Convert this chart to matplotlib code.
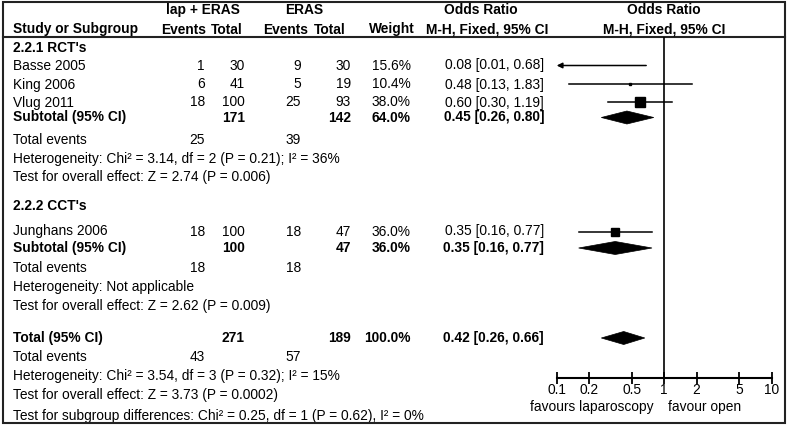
"""
Forest plot: lap + ERAS vs ERAS (M-H, fixed effect odds ratio).
RevMan-style layout, drawn on one figure-wide table axes plus a log-scale
axes for the odds-ratio marks.
"""

import matplotlib
matplotlib.use("Agg")
import matplotlib.pyplot as plt
from matplotlib.patches import Polygon, Rectangle
import matplotlib.ticker as ticker

plt.rcParams["font.family"] = ["Liberation Sans", "DejaVu Sans"]

# ═════════════════════════════════════════════════════════════
# Data
# ═════════════════════════════════════════════════════════════
study_names = ["Basse 2005", "King 2006", "Vlug 2011", "Junghans 2006"]
study_group = [0, 0, 0, 1]
lap_events = [1, 6, 18, 18]
lap_total = [30, 41, 100, 100]
eras_events = [9, 5, 25, 18]
eras_total = [30, 19, 93, 47]
weights = [15.6, 10.4, 38.0, 36.0]
odds_ratio = [0.08, 0.48, 0.60, 0.35]
ci_low = [0.01, 0.13, 0.30, 0.16]
ci_high = [0.68, 1.83, 1.19, 0.77]

group_labels = ["2.2.1 RCT's", "2.2.2 CCT's"]
group_lap_total = [171, 100]
group_eras_total = [142, 47]
group_weight = [64.0, 36.0]
group_or = [0.45, 0.35]
group_low = [0.26, 0.16]
group_high = [0.80, 0.77]
group_lap_events = [25, 18]
group_eras_events = [39, 18]
group_het = ["Heterogeneity: Chi² = 3.14, df = 2 (P = 0.21); I² = 36%",
             "Heterogeneity: Not applicable"]
group_effect = ["Test for overall effect: Z = 2.74 (P = 0.006)",
                "Test for overall effect: Z = 2.62 (P = 0.009)"]

total_lap_total = 271
total_eras_total = 189
total_weight = 100.0
total_or = 0.42
total_low = 0.26
total_high = 0.66
total_lap_events = 43
total_eras_events = 57
total_het = "Heterogeneity: Chi² = 3.54, df = 3 (P = 0.32); I² = 15%"
total_effect = "Test for overall effect: Z = 3.73 (P = 0.0002)"
subgroup_test = "Test for subgroup differences: Chi² = 0.25, df = 1 (P = 0.62), I² = 0%"

axis_ticks = [0.1, 0.2, 0.5, 1, 2, 5, 10]
tick_labels = ["0.1", "0.2", "0.5", "1", "2", "5", "10"]
favours_left = "favours laparoscopy"
favours_right = "favour open"

# ═════════════════════════════════════════════════════════════
# Layout (pixels, y measured from the top)
# ═════════════════════════════════════════════════════════════
W, H = 787, 426
FS = 9.9
X_NAME = 13
X_LAP_EV, X_LAP_TOT, X_ERAS_EV, X_ERAS_TOT = 205, 245, 301, 351
X_WEIGHT, X_OR = 411, 544
PLOT_L, PLOT_R = 556.7, 771.7          # x of 0.1 and 10
PLOT_T, PLOT_B = 37, 377.5             # header rule and axis line

Y_HEAD = [10, 29.5]
Y_GROUP = [48, 206]
Y_STUDY = [65.5, 84.5, 102.5, 231.5]
Y_SUB = [117.5, 248]
Y_SUB_EVENTS = [139.5, 268]
Y_SUB_HET = [158.5, 287]
Y_SUB_EFFECT = [177, 306]
Y_TOTAL, Y_TOTAL_EVENTS, Y_TOTAL_HET, Y_TOTAL_EFFECT, Y_SUBGROUP = 338, 357, 376, 395, 416
DIAMOND_H = 6.5

fig = plt.figure(figsize=(W / 100, H / 100), dpi=100)
tab = fig.add_axes([0, 0, 1, 1])
tab.set_xlim(0, W)
tab.set_ylim(H, 0)
tab.axis("off")


def put(x, y, s, ha="left", bold=False):
    tab.text(x, y, s, ha=ha, va="center", fontsize=FS,
             fontweight="bold" if bold else "normal", color="black")


def or_text(o, lo, hi):
    return f"{o:.2f} [{lo:.2f}, {hi:.2f}]"


# ── Frame and header rule ──
tab.add_patch(Rectangle((3, 2), W - 5, H - 5, fill=False, lw=1.5, ec="#222222",
                        zorder=5))
tab.plot([3, W - 2], [PLOT_T, PLOT_T], color="#222222", lw=1.5)

# ── Header ──
put(203, Y_HEAD[0], "lap + ERAS", ha="center", bold=True)
put(304, Y_HEAD[0], "ERAS", ha="center", bold=True)
put(481, Y_HEAD[0], "Odds Ratio", ha="center", bold=True)
put(664, Y_HEAD[0], "Odds Ratio", ha="center", bold=True)
put(X_NAME, Y_HEAD[1], "Study or Subgroup", bold=True)
put(206, Y_HEAD[1], "Events", ha="right", bold=True)
put(243, Y_HEAD[1], "Total", ha="right", bold=True)
put(308, Y_HEAD[1], "Events", ha="right", bold=True)
put(346, Y_HEAD[1], "Total", ha="right", bold=True)
put(415, Y_HEAD[1], "Weight", ha="right", bold=True)
put(487, Y_HEAD[1], "M-H, Fixed, 95% CI", ha="center", bold=True)
put(664, Y_HEAD[1], "M-H, Fixed, 95% CI", ha="center", bold=True)

# ═════════════════════════════════════════════════════════════
# Odds-ratio axes
# ═════════════════════════════════════════════════════════════
ax = fig.add_axes([PLOT_L / W, 1 - PLOT_B / H,
                   (PLOT_R - PLOT_L) / W, (PLOT_B - PLOT_T) / H])
ax.set_xscale("log")
ax.set_xlim(axis_ticks[0], axis_ticks[-1])
ax.set_ylim(PLOT_B, PLOT_T)
ax.patch.set_alpha(0)
for side in ["top", "right", "left"]:
    ax.spines[side].set_visible(False)
ax.spines["bottom"].set_linewidth(1.5)
ax.set_yticks([])
ax.xaxis.set_major_locator(ticker.FixedLocator(axis_ticks))
ax.xaxis.set_major_formatter(ticker.FixedFormatter(tick_labels))
ax.xaxis.set_minor_locator(ticker.NullLocator())
ax.tick_params(axis="x", direction="inout", length=8, width=1.3,
               labelsize=FS, pad=0)
ax.axvline(1, color="black", lw=1.2)

xmin = axis_ticks[0]


def draw_diamond(o, lo, hi, y):
    ax.add_patch(Polygon([(lo, y), (o, y - DIAMOND_H), (hi, y), (o, y + DIAMOND_H)],
                         closed=True, fc="black", ec="black", lw=0.5))


# ── Studies ──
for i, name in enumerate(study_names):
    y = Y_STUDY[i]
    put(X_NAME, y, name)
    put(X_LAP_EV, y, str(lap_events[i]), ha="right")
    put(X_LAP_TOT, y, str(lap_total[i]), ha="right")
    put(X_ERAS_EV, y, str(eras_events[i]), ha="right")
    put(X_ERAS_TOT, y, str(eras_total[i]), ha="right")
    put(X_WEIGHT, y, f"{weights[i]:.1f}%", ha="right")
    put(X_OR, y, or_text(odds_ratio[i], ci_low[i], ci_high[i]), ha="right")

    if ci_low[i] < xmin:
        ax.annotate("", xy=(xmin, y), xytext=(ci_high[i], y),
                    arrowprops=dict(arrowstyle="-|>", color="black", lw=1.1,
                                    mutation_scale=8, shrinkA=0, shrinkB=0))
    else:
        ax.plot([ci_low[i], ci_high[i]], [y, y], color="black", lw=1.1)
    if odds_ratio[i] >= xmin:
        ax.plot(odds_ratio[i], y, marker="s", color="black",
                markersize=weights[i] * 0.24 * 0.72)

# ── Subgroups ──
for g, label in enumerate(group_labels):
    put(X_NAME, Y_GROUP[g], label, bold=True)
    y = Y_SUB[g]
    put(X_NAME, y, "Subtotal (95% CI)", bold=True)
    put(X_LAP_TOT, y, str(group_lap_total[g]), ha="right", bold=True)
    put(X_ERAS_TOT, y, str(group_eras_total[g]), ha="right", bold=True)
    put(X_WEIGHT, y, f"{group_weight[g]:.1f}%", ha="right", bold=True)
    put(X_OR, y, or_text(group_or[g], group_low[g], group_high[g]), ha="right", bold=True)
    draw_diamond(group_or[g], group_low[g], group_high[g], y)

    put(X_NAME, Y_SUB_EVENTS[g], "Total events")
    put(X_LAP_EV, Y_SUB_EVENTS[g], str(group_lap_events[g]), ha="right")
    put(X_ERAS_EV, Y_SUB_EVENTS[g], str(group_eras_events[g]), ha="right")
    put(X_NAME, Y_SUB_HET[g], group_het[g])
    put(X_NAME, Y_SUB_EFFECT[g], group_effect[g])

# ── Overall ──
put(X_NAME, Y_TOTAL, "Total (95% CI)", bold=True)
put(X_LAP_TOT, Y_TOTAL, str(total_lap_total), ha="right", bold=True)
put(X_ERAS_TOT, Y_TOTAL, str(total_eras_total), ha="right", bold=True)
put(X_WEIGHT, Y_TOTAL, f"{total_weight:.1f}%", ha="right", bold=True)
put(X_OR, Y_TOTAL, or_text(total_or, total_low, total_high), ha="right", bold=True)
draw_diamond(total_or, total_low, total_high, Y_TOTAL)

put(X_NAME, Y_TOTAL_EVENTS, "Total events")
put(X_LAP_EV, Y_TOTAL_EVENTS, str(total_lap_events), ha="right")
put(X_ERAS_EV, Y_TOTAL_EVENTS, str(total_eras_events), ha="right")
put(X_NAME, Y_TOTAL_HET, total_het)
put(X_NAME, Y_TOTAL_EFFECT, total_effect)
put(X_NAME, Y_SUBGROUP, subgroup_test)

put(592, 406.5, favours_left, ha="center")
put(705, 406.5, favours_right, ha="center")

fig.savefig("out.png", dpi=100)
plt.close(fig)
